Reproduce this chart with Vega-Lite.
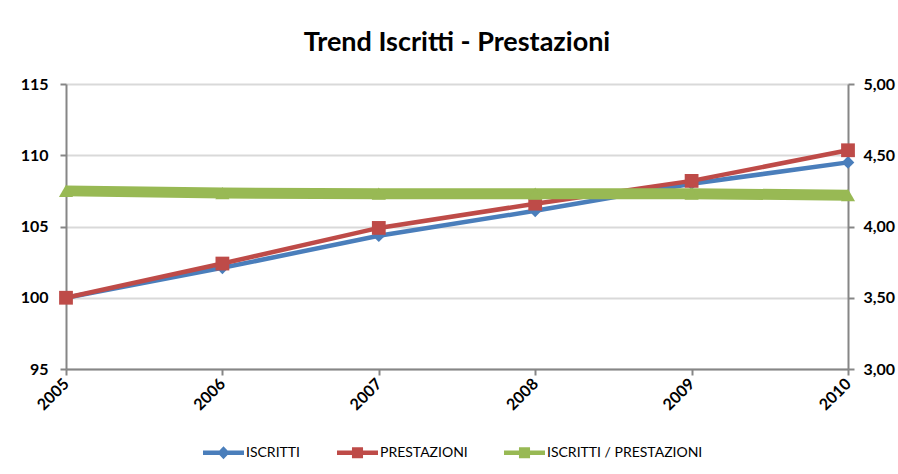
{
  "$schema": "https://vega.github.io/schema/vega-lite/v6.json",
  "width": 782,
  "height": 285,
  "autosize": {"type": "none"},
  "padding": {"left": 66, "top": 84, "right": 50, "bottom": 105},
  "background": "white",
  "title": {
    "text": "Trend Iscritti - Prestazioni",
    "font": "Lato",
    "fontSize": 27,
    "fontWeight": "bold",
    "color": "#000000",
    "anchor": "middle",
    "offset": 19
  },
  "config": {
    "font": "Lato",
    "view": {"stroke": null},
    "axis": {
      "domainColor": "#868686",
      "domainWidth": 2,
      "tickColor": "#868686",
      "tickWidth": 2,
      "tickSize": 6,
      "labelFont": "Lato",
      "labelFontWeight": "bold",
      "labelFontSize": 16,
      "labelColor": "#000000",
      "gridColor": "#d9d9d9",
      "gridWidth": 2,
      "title": null
    }
  },
  "data": {
    "values": [
      {"anno": "2005", "ISCRITTI": 100.0, "PRESTAZIONI": 100.0, "rapporto": 4.25},
      {"anno": "2006", "ISCRITTI": 102.1, "PRESTAZIONI": 102.4, "rapporto": 4.235},
      {"anno": "2007", "ISCRITTI": 104.35, "PRESTAZIONI": 104.9, "rapporto": 4.23},
      {"anno": "2008", "ISCRITTI": 106.1, "PRESTAZIONI": 106.6, "rapporto": 4.23},
      {"anno": "2009", "ISCRITTI": 108.0, "PRESTAZIONI": 108.2, "rapporto": 4.23},
      {"anno": "2010", "ISCRITTI": 109.5, "PRESTAZIONI": 110.35, "rapporto": 4.22}
    ]
  },
  "encoding": {
    "x": {
      "field": "anno",
      "type": "ordinal",
      "scale": {"type": "point", "padding": 0},
      "axis": {
        "labelAngle": -45,
        "labelAlign": "right",
        "labelBaseline": "middle",
        "labelFontSize": 16,
        "labelPadding": 6,
        "grid": false
      }
    }
  },
  "layer": [
    {
      "transform": [{"fold": ["ISCRITTI", "PRESTAZIONI"], "as": ["serie", "valore"]}],
      "encoding": {
        "y": {
          "field": "valore",
          "type": "quantitative",
          "scale": {"domain": [95, 115], "zero": false, "nice": false},
          "axis": {"values": [95, 100, 105, 110, 115], "grid": true, "labelPadding": 12, "orient": "left"}
        },
        "color": {
          "field": "serie",
          "type": "nominal",
          "scale": {
            "domain": ["ISCRITTI", "PRESTAZIONI", "ISCRITTI / PRESTAZIONI"],
            "range": ["#4a7ebb", "#be4b48", "#98b954"]
          },
          "legend": {
            "orient": "none",
            "direction": "horizontal",
            "legendX": 137,
            "legendY": 348,
            "title": null,
            "labelFont": "Lato",
            "labelFontSize": 14,
            "labelColor": "#000000",
            "labelOffset": 2,
            "columnPadding": 36,
            "symbolSize": 1681,
            "encode": {
              "symbols": {
                "update": {
                  "shape": {"signal": "datum.value == 'ISCRITTI' ? 'M-1,-0.11H1V0.11H-1Z M0,-0.32L0.3,0L0,0.32L-0.3,0Z' : (datum.value == 'PRESTAZIONI' ? 'M-1,-0.11H1V0.11H-1Z M-0.27,-0.27H0.27V0.27H-0.27Z' : 'M-1,-0.11H1V0.11H-1Z M-0.27,-0.27H0.27V0.27H-0.27Z')"},
                  "fill": {"scale": "color", "field": "value"},
                  "stroke": {"value": "transparent"},
                  "strokeWidth": {"value": 0},
                  "opacity": {"value": 1}
                }
              }
            }
          }
        }
      },
      "layer": [
        {"mark": {"type": "line", "strokeWidth": 4.5}},
        {
          "mark": {"type": "point", "filled": true, "opacity": 1},
          "encoding": {
            "shape": {
              "field": "serie",
              "type": "nominal",
              "scale": {"domain": ["ISCRITTI", "PRESTAZIONI"], "range": ["diamond", "square"]},
              "legend": null
            },
            "size": {"condition": {"test": "datum.serie == 'ISCRITTI'", "value": 160}, "value": 190}
          }
        }
      ]
    },
    {
      "encoding": {
        "y": {
          "field": "rapporto",
          "type": "quantitative",
          "scale": {"domain": [3, 5], "zero": false, "nice": false},
          "axis": {
            "orient": "right",
            "values": [3, 3.5, 4, 4.5, 5],
            "grid": false,
            "labelPadding": 9,
            "labelExpr": "replace(format(datum.value, '.2f'), '.', ',')"
          }
        },
        "color": {"datum": "ISCRITTI / PRESTAZIONI", "type": "nominal"}
      },
      "layer": [
        {"mark": {"type": "line", "strokeWidth": 11}},
        {"mark": {"type": "point", "filled": true, "opacity": 1, "shape": "triangle-up", "size": 200}}
      ]
    }
  ],
  "resolve": {"scale": {"y": "independent"}, "axis": {"y": "independent"}}
}
